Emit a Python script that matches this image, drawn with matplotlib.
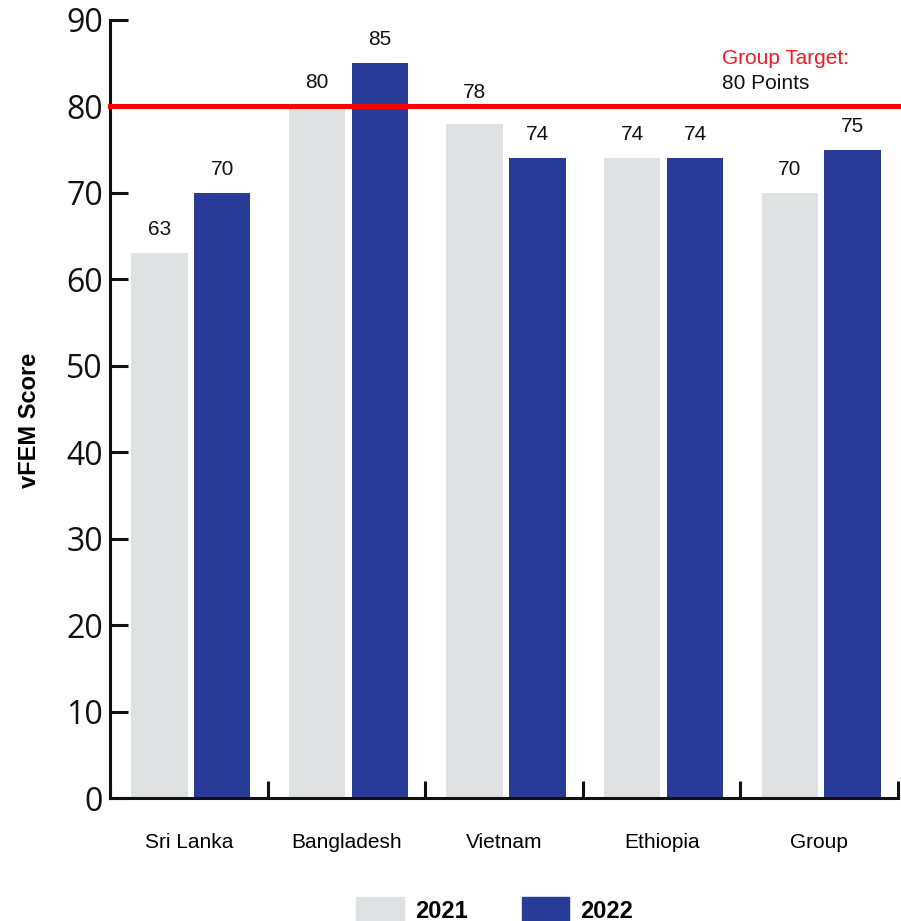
import matplotlib
matplotlib.use("Agg")
import matplotlib.pyplot as plt
from matplotlib.patches import Patch
import numpy as np

categories = ["Sri Lanka", "Bangladesh", "Vietnam", "Ethiopia", "Group"]
years = ["2021", "2022"]
scores_2021 = [63, 80, 78, 74, 70]
scores_2022 = [70, 85, 74, 74, 75]
target = 80
yticks = [0, 10, 20, 30, 40, 50, 60, 70, 80, 90]

c2021 = "#e0e1e3"
c2022 = "#283c97"
red = "#ff0000"

plt.rcParams['font.family'] = ['Liberation Sans', 'DejaVu Sans']

fig = plt.figure(figsize=(9.01, 9.21), dpi=100)
ax = fig.add_axes([110/901, (921-798)/921, (898-110)/901, (798-20)/921])

x = np.arange(len(categories))
w = 0.358
b1 = ax.bar(x - 0.187, scores_2021, width=w, color=c2021, zorder=2)
b2 = ax.bar(x + 0.212, scores_2022, width=w, color=c2022, zorder=2)

for bars, vals in ((b1, scores_2021), (b2, scores_2022)):
    for r, v in zip(bars, vals):
        cx = r.get_x() + r.get_width()/2
        if target - 4 < v < target:
            # lift the label above the target line to avoid overlap
            ax.text(cx, target + 1.0, str(v), ha="center", va="baseline",
                    fontsize=15, color="#111111")
        else:
            ax.annotate(str(v), (cx, v), xytext=(0, 13),
                        textcoords="offset points", ha="center", va="baseline",
                        fontsize=15, color="#111111")

ax.axhline(target, xmin=0, xmax=1.004, color=red, lw=3.6, zorder=3, clip_on=False)
ax.text(0.7766, 0.951, "Group Target:", transform=ax.transAxes, color="#ee1c25",
        fontsize=15, ha="left", va="center")
ax.text(0.7766, 0.919, f"{target} Points", transform=ax.transAxes, color="#111111",
        fontsize=15, ha="left", va="center")

ax.set_xlim(-0.5, len(categories) - 0.5)
ax.set_ylim(0, 90)
ax.set_yticks(yticks)
ax.set_yticklabels([str(t) for t in yticks], fontfamily="Open Sans", fontsize=23)
ax.tick_params(axis="y", direction="in", length=13, width=2.2, pad=5, colors="#111111")

ax.set_xticks(x)
ax.set_xticklabels(categories, fontsize=15)
ax.tick_params(axis="x", which="major", length=0, pad=25)
ax.set_xticks(np.arange(-0.5, len(categories), 1.0), minor=True)
ax.tick_params(axis="x", which="minor", direction="in", length=12, width=2.2, color="#111111")

for s in ("top", "right"):
    ax.spines[s].set_visible(False)
for s in ("left", "bottom"):
    ax.spines[s].set_linewidth(2.2)
    ax.spines[s].set_color("#111111")

fig.text(30/901, (921-420)/921, "vFEM Score", rotation=90, fontsize=17,
         fontweight="bold", ha="center", va="center")

handles = [Patch(color=c2021, label=years[0]), Patch(color=c2022, label=years[1])]
leg = fig.legend(handles=handles, loc="center", bbox_to_anchor=(0.549, 0.012),
                 ncol=2, frameon=False, handlelength=2.0, handleheight=1.3,
                 handletextpad=0.47, columnspacing=2.3,
                 prop={"weight": "bold", "size": 17, "family": "Liberation Sans"})

fig.savefig("out.png", dpi=100)
